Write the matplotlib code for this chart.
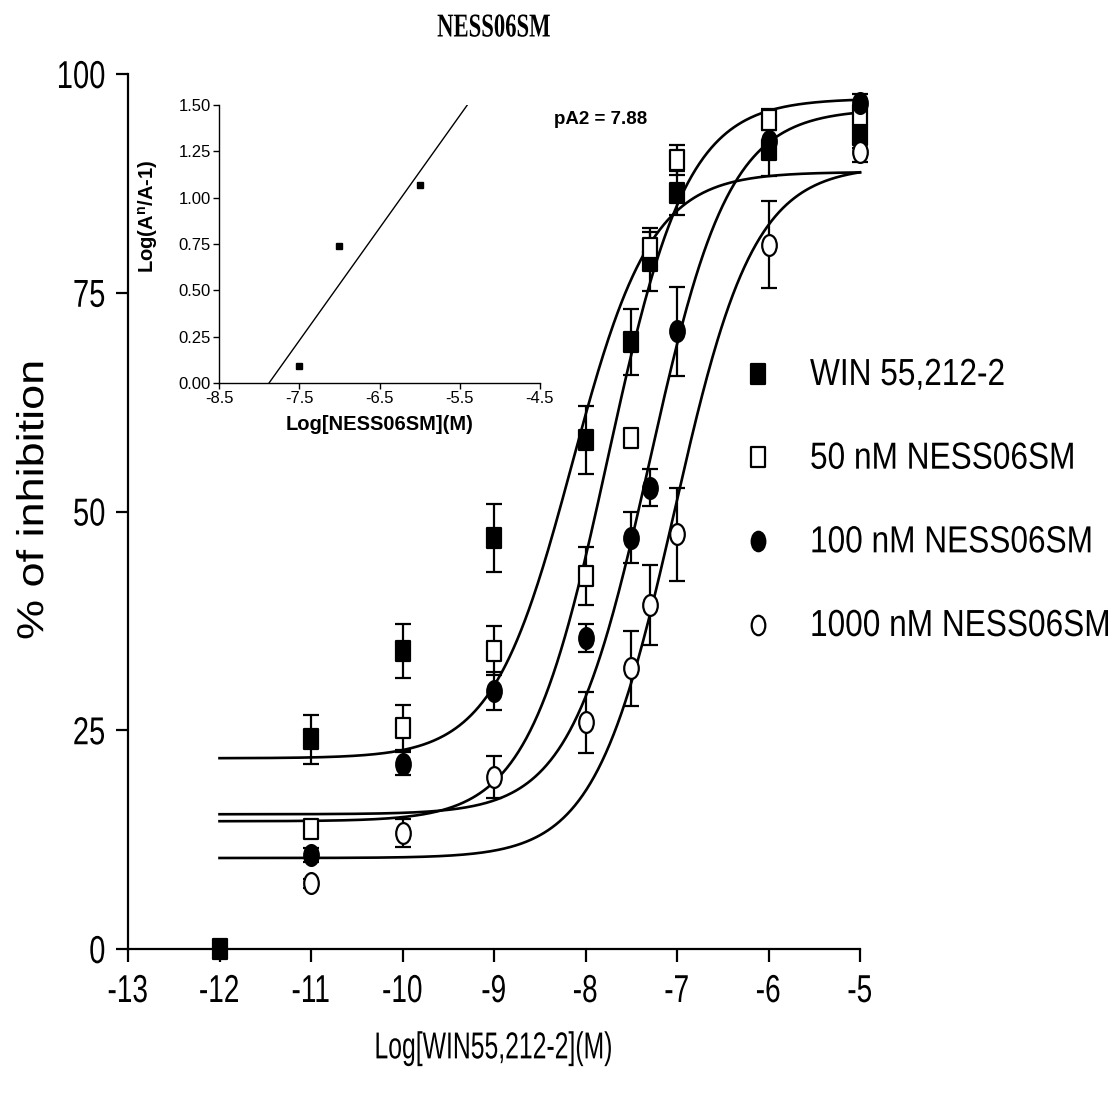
import numpy as np
import matplotlib
matplotlib.use("Agg")
import matplotlib.pyplot as plt
import matplotlib.patheffects as pe
from matplotlib.path import Path
from matplotlib.transforms import Affine2D
from matplotlib.lines import Line2D

# ---------------- data ----------------
log_win = [-12, -11, -10, -9, -8, -7.5, -7.3, -7, -6, -5]
log_ant = [-11, -10, -9, -8, -7.5, -7.3, -7, -6, -5]

win_mean = [0.0, 24.0, 34.1, 47.0, 58.2, 69.4, 78.6, 86.4, 91.3, 93.0]
win_sem = [0.0, 2.8, 3.1, 3.9, 3.9, 3.8, 3.4, 2.5, 3.0, 1.5]

n50_mean = [13.7, 25.3, 34.1, 42.6, 58.4, 80.1, 90.2, 94.8, 95.3]
n50_sem = [0.8, 2.6, 2.8, 3.3, 0.8, 2.3, 1.7, 1.2, 1.0]

n100_mean = [10.8, 21.2, 29.5, 35.6, 47.0, 52.7, 70.6, 92.3, 96.7]
n100_sem = [0.8, 1.3, 2.2, 1.6, 2.9, 2.1, 5.1, 1.5, 1.0]

n1000_mean = [7.5, 13.3, 19.7, 25.9, 32.1, 39.3, 47.4, 80.5, 91.1]
n1000_sem = [0.5, 1.6, 2.4, 3.5, 4.3, 4.6, 5.3, 5.0, 1.2]

# fitted sigmoid parameters: bottom, top, logEC50, hill
fit_bottom = [21.8, 14.6, 15.4, 10.4]
fit_top = [88.8, 97.2, 96.0, 89.5]
fit_logec50 = [-8.15, -7.76, -7.30, -7.03]
fit_hill = [1.0, 1.0, 1.0, 1.0]

series_labels = ["WIN 55,212-2", "50 nM NESS06SM", "100 nM NESS06SM", "1000 nM NESS06SM"]

# Schild plot
schild_x = [-7.5, -7.0, -6.0]
schild_y = [0.09, 0.74, 1.07]
pa2_text = "pA2 = 7.88"

xticks_main = [-13, -12, -11, -10, -9, -8, -7, -6, -5]
yticks_main = [0, 25, 50, 75, 100]
xticks_inset = [-8.5, -7.5, -6.5, -5.5, -4.5]
yticks_inset = [0.0, 0.25, 0.5, 0.75, 1.0, 1.25, 1.5]

# ---------------- style ----------------
plt.rcParams['font.family'] = ['Liberation Sans', 'DejaVu Sans']
plt.rcParams['axes.unicode_minus'] = False


class Condense(pe.AbstractPathEffect):
    """Render text glyphs scaled (narrow typeface look)."""

    def __init__(self, sx, anchor='center', sy=1.0):
        super().__init__()
        self.sx = sx
        self.sy = sy
        self.anchor = anchor

    def draw_path(self, renderer, gc, tpath, affine, rgbFace=None):
        v = tpath.vertices
        a = 0.0
        if len(v):
            if self.anchor == 'center':
                a = 0.5 * (v[:, 0].min() + v[:, 0].max())
            elif self.anchor == 'right':
                a = v[:, 0].max()
        t = Affine2D().translate(-a, 0).scale(self.sx, self.sy).translate(a, 0) + affine
        renderer.draw_path(gc, tpath, t, rgbFace)


W, H = 1119, 1103
fig = plt.figure(figsize=(W / 100, H / 100), dpi=100)


def fx(px):
    return px / W


def fy(py):
    return 1 - py / H


ax = fig.add_axes([fx(128), fy(949), fx(860) - fx(128), fy(74) - fy(949)])
ax.set_xlim(-13, -5)
ax.set_ylim(0, 100)
for s in ['top', 'right']:
    ax.spines[s].set_visible(False)
for s in ['left', 'bottom']:
    ax.spines[s].set_linewidth(1.6)
ax.set_xticks(xticks_main)
ax.set_xticklabels([str(v) for v in xticks_main])
ax.set_yticks(yticks_main)
ax.set_yticklabels([str(v) for v in yticks_main])
ax.tick_params(axis='both', length=9, width=1.6, labelsize=28)
ax.tick_params(axis='x', pad=9)
ax.tick_params(axis='y', pad=7)
for lab in ax.get_xticklabels():
    lab.set_path_effects([Condense(0.72, 'center')])
for lab in ax.get_yticklabels():
    lab.set_path_effects([Condense(0.75, 'right')])

# custom taller-than-wide markers
sq_path = Path([(-0.35, -0.5), (0.35, -0.5), (0.35, 0.5), (-0.35, 0.5), (-0.35, -0.5)],
               [Path.MOVETO, Path.LINETO, Path.LINETO, Path.LINETO, Path.CLOSEPOLY])
circ_path = Affine2D().scale(0.35, 0.5).transform_path(Path.unit_circle())

styles = [
    dict(marker=sq_path, mfc='black', mec='black'),
    dict(marker=sq_path, mfc='white', mec='black'),
    dict(marker=circ_path, mfc='black', mec='black'),
    dict(marker=circ_path, mfc='white', mec='black'),
]

xs = [log_win, log_ant, log_ant, log_ant]
means = [win_mean, n50_mean, n100_mean, n1000_mean]
sems = [win_sem, n50_sem, n100_sem, n1000_sem]

xfit = np.linspace(-12, -5, 500)
for i in range(4):
    yfit = fit_bottom[i] + (fit_top[i] - fit_bottom[i]) / (1 + 10 ** ((fit_logec50[i] - xfit) * fit_hill[i]))
    ax.plot(xfit, yfit, color='black', lw=1.9, zorder=2, clip_on=False)

for i in range(4):
    ax.errorbar(xs[i], means[i], yerr=sems[i], fmt='none', ecolor='black',
                elinewidth=1.6, capsize=6, capthick=1.6, zorder=3, clip_on=False)
    ax.plot(xs[i], means[i], linestyle='none', markersize=15, mew=1.6,
            zorder=4, clip_on=False, **styles[i])

xl_txt = ax.set_xlabel("Log[WIN55,212-2](M)", fontsize=27)
xl_txt.set_path_effects([Condense(0.66, 'center')])
ax.xaxis.set_label_coords(0.5, -0.093)
yl_txt = ax.set_ylabel("% of inhibition", fontsize=27)
yl_txt.set_path_effects([Condense(1.2, 'center')])
ax.yaxis.set_label_coords(-0.105, 0.513)

title = fig.text(0.5 * (fx(128) + fx(860)), fy(28), "NESS06SM",
                 family=['Liberation Serif', 'DejaVu Serif'],
                 weight='bold', fontsize=24, ha='center', va='center')
title.set_path_effects([Condense(0.68, 'center')])

# legend
leg_fs = 23
leg_px = leg_fs * 100 / 72.0
handles = [Line2D([], [], linestyle='none', markersize=14, mew=1.6, **st) for st in styles]
leg = ax.legend(handles, series_labels, loc='upper left', bbox_to_anchor=(fx(739), fy(362)),
                bbox_transform=fig.transFigure, frameon=False, fontsize=leg_fs, borderpad=0,
                handlelength=37.5 / leg_px, handletextpad=33.5 / leg_px,
                labelspacing=1.68, borderaxespad=0)
for t in leg.get_texts():
    t.set_path_effects([Condense(0.99, 'left', sy=1.18)])

# inset Schild plot
ins = fig.add_axes([fx(219), fy(383), fx(540) - fx(219), fy(105) - fy(383)])
ins.set_xlim(-8.5, -4.5)
ins.set_ylim(0, 1.5)
for s in ['top', 'right']:
    ins.spines[s].set_visible(False)
for s in ['left', 'bottom']:
    ins.spines[s].set_linewidth(1.0)
ins.set_xticks(xticks_inset)
ins.set_xticklabels(["%g" % v for v in xticks_inset])
ins.set_yticks(yticks_inset)
ins.set_yticklabels(["%.2f" % v for v in yticks_inset])
ins.tick_params(axis='both', length=4, width=1.0, labelsize=12, pad=2)
ins.plot(schild_x, schild_y, linestyle='none', marker='s', markersize=5, color='black')
slope, intercept = np.polyfit(schild_x, schild_y, 1)
xl = np.array([-8.5, -4.5])
ins.plot(xl, slope * xl + intercept, color='black', lw=1.0)
ins.set_xlabel("Log[NESS06SM](M)", fontsize=14.5, weight='bold')
ins.set_ylabel("Log(A$^{\\mathregular{n}}$/A-1)", fontsize=14.5, weight='bold')
ins.yaxis.set_label_coords(-0.185, 0.6)
ins.xaxis.set_label_coords(0.5, -0.115)
fig.text(fx(601), fy(120), pa2_text, fontsize=13.5, weight='bold', ha='center', va='center')

fig.savefig("out.png", dpi=100)
